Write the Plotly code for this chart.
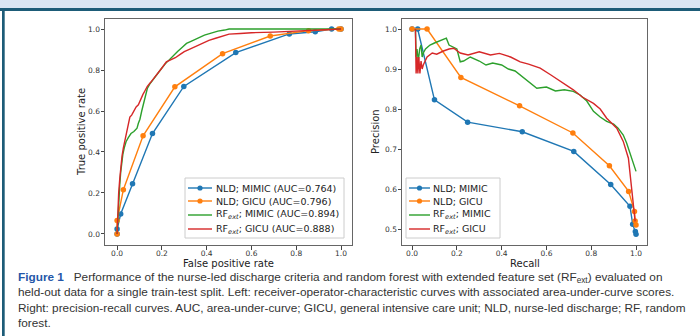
import plotly.graph_objects as go

# ---------------- data ----------------
# ROC curves
roc_nld_mimic_fpr = [0.0, 0.0, 0.016, 0.069, 0.158, 0.298, 0.53, 0.769, 0.885, 0.958, 1.0]
roc_nld_mimic_tpr = [0.0, 0.024, 0.097, 0.245, 0.49, 0.72, 0.885, 0.976, 0.987, 1.0, 1.0]
roc_nld_gicu_fpr = [0.0, 0.0, 0.028, 0.116, 0.258, 0.471, 0.684, 0.855, 0.99, 1.0]
roc_nld_gicu_tpr = [0.0, 0.065, 0.216, 0.479, 0.718, 0.88, 0.966, 0.992, 1.0, 1.0]
roc_rf_mimic_fpr = [0.0, 0.004, 0.008, 0.012, 0.016, 0.02, 0.026, 0.032, 0.04, 0.05, 0.062, 0.075, 0.089,
                    0.095, 0.102, 0.11, 0.118, 0.126, 0.135, 0.145, 0.158, 0.17, 0.185, 0.2, 0.215,
                    0.232, 0.25, 0.27, 0.29, 0.31, 0.33, 0.35, 0.37, 0.39, 0.42, 0.45, 0.48, 0.5, 0.6, 0.8, 1.0]
roc_rf_mimic_tpr = [0.0, 0.1, 0.17, 0.24, 0.3, 0.34, 0.39, 0.42, 0.45, 0.47, 0.49, 0.5, 0.516,
                    0.54, 0.56, 0.6, 0.64, 0.68, 0.71, 0.73, 0.75, 0.77, 0.79, 0.81, 0.83,
                    0.85, 0.87, 0.89, 0.91, 0.93, 0.94, 0.95, 0.96, 0.97, 0.98, 0.99, 0.995, 1.0, 1.0, 1.0, 1.0]
roc_rf_gicu_fpr = [0.0, 0.003, 0.007, 0.012, 0.017, 0.022, 0.028, 0.035, 0.042, 0.05, 0.057, 0.065, 0.075,
                   0.085, 0.095, 0.105, 0.115, 0.125, 0.135, 0.15, 0.165, 0.18, 0.2, 0.22, 0.24, 0.26,
                   0.28, 0.3, 0.32, 0.35, 0.38, 0.41, 0.44, 0.47, 0.5, 0.55, 0.6, 0.7, 0.8, 0.9, 0.95, 1.0]
roc_rf_gicu_tpr = [0.0, 0.12, 0.2, 0.27, 0.33, 0.38, 0.42, 0.46, 0.5, 0.54, 0.57, 0.58, 0.6,
                   0.62, 0.63, 0.66, 0.68, 0.7, 0.72, 0.74, 0.76, 0.78, 0.81, 0.84, 0.85, 0.86,
                   0.875, 0.89, 0.9, 0.915, 0.93, 0.945, 0.955, 0.965, 0.975, 0.978, 0.982, 0.985, 0.99, 0.995, 1.0, 1.0]

# Precision-recall curves
pr_nld_mimic_rec = [0.0, 0.025, 0.1, 0.248, 0.492, 0.722, 0.887, 0.973, 0.985, 0.997, 1.0]
pr_nld_mimic_prec = [1.0, 1.0, 0.823, 0.767, 0.743, 0.694, 0.611, 0.557, 0.512, 0.494, 0.487]
pr_nld_gicu_rec = [0.0, 0.067, 0.218, 0.48, 0.718, 0.881, 0.967, 0.993, 0.996, 1.0]
pr_nld_gicu_prec = [1.0, 1.0, 0.879, 0.808, 0.74, 0.658, 0.594, 0.544, 0.52, 0.51]
pr_rf_mimic_rec = [0.015, 0.018, 0.022, 0.028, 0.034, 0.04, 0.045, 0.05, 0.06, 0.08, 0.1, 0.12, 0.14, 0.153,
                   0.165, 0.18, 0.2, 0.215, 0.23, 0.26, 0.3, 0.33, 0.36, 0.4, 0.43, 0.46, 0.483, 0.52,
                   0.557, 0.6, 0.64, 0.68, 0.72, 0.75, 0.78, 0.81, 0.84, 0.869, 0.9, 0.92, 0.943,
                   0.958, 0.97, 0.98, 0.99, 1.0]
pr_rf_mimic_prec = [1.0, 0.93, 0.95, 0.92, 0.95, 0.96, 0.93, 0.94, 0.95, 0.96, 0.965, 0.97, 0.973, 0.977,
                    0.96, 0.955, 0.95, 0.918, 0.92, 0.93, 0.92, 0.91, 0.915, 0.91, 0.9, 0.895, 0.885, 0.87,
                    0.852, 0.855, 0.845, 0.848, 0.844, 0.835, 0.82, 0.794, 0.78, 0.769, 0.762, 0.752, 0.735,
                    0.715, 0.694, 0.68, 0.665, 0.644]
pr_rf_gicu_rec = [0.015, 0.018, 0.022, 0.026, 0.03, 0.035, 0.04, 0.045, 0.05, 0.067, 0.09, 0.11, 0.14, 0.165,
                  0.186, 0.215, 0.25, 0.3, 0.35, 0.39, 0.44, 0.483, 0.52, 0.572, 0.62, 0.661, 0.72,
                  0.76, 0.81, 0.84, 0.869, 0.914, 0.943, 0.966, 0.98, 0.988, 0.996]
pr_rf_gicu_prec = [1.0, 0.889, 0.93, 0.889, 0.93, 0.889, 0.92, 0.9, 0.91, 0.93, 0.94, 0.937, 0.945, 0.95,
                   0.952, 0.94, 0.935, 0.943, 0.935, 0.939, 0.93, 0.918, 0.912, 0.902, 0.885, 0.869, 0.848,
                   0.83, 0.814, 0.8, 0.777, 0.752, 0.719, 0.677, 0.602, 0.561, 0.519]

roc_names = ["NLD; MIMIC (AUC=0.764)", "NLD; GICU (AUC=0.796)",
             "RF<sub><i>ext</i></sub>; MIMIC (AUC=0.894)", "RF<sub><i>ext</i></sub>; GICU (AUC=0.888)"]
pr_names = ["NLD; MIMIC", "NLD; GICU", "RF<sub><i>ext</i></sub>; MIMIC", "RF<sub><i>ext</i></sub>; GICU"]
tick_vals = [0.0, 0.2, 0.4, 0.6, 0.8, 1.0]
tick_text = ["0.0", "0.2", "0.4", "0.6", "0.8", "1.0"]
pr_tick_vals = [0.5, 0.6, 0.7, 0.8, 0.9, 1.0]
pr_tick_text = ["0.5", "0.6", "0.7", "0.8", "0.9", "1.0"]
axis_titles = ["False positive rate", "True positive rate", "Recall", "Precision"]

colors = ["#1f77b4", "#ff7f0e", "#2ca02c", "#d62728"]
has_markers = [True, True, False, False]

# ---------------- figure ----------------
W, H = 700, 336
fig = go.Figure()


def px(x):
    return x / W


def py(y):
    return 1 - y / H


def add(x, y, name, color, markers, xa, ya):
    fig.add_trace(go.Scatter(
        x=x, y=y, name=name, xaxis=xa, yaxis=ya, showlegend=False,
        mode="lines+markers" if markers else "lines",
        line=dict(color=color, width=1.4),
        marker=dict(size=5.5, color=color),
    ))


roc_x = [roc_nld_mimic_fpr, roc_nld_gicu_fpr, roc_rf_mimic_fpr, roc_rf_gicu_fpr]
roc_y = [roc_nld_mimic_tpr, roc_nld_gicu_tpr, roc_rf_mimic_tpr, roc_rf_gicu_tpr]
pr_x = [pr_nld_mimic_rec, pr_nld_gicu_rec, pr_rf_mimic_rec, pr_rf_gicu_rec]
pr_y = [pr_nld_mimic_prec, pr_nld_gicu_prec, pr_rf_mimic_prec, pr_rf_gicu_prec]
for i in range(4):
    add(roc_x[i], roc_y[i], roc_names[i], colors[i], has_markers[i], "x", "y")
for i in range(4):
    add(pr_x[i], pr_y[i], pr_names[i], colors[i], has_markers[i], "x2", "y2")

axis_common = dict(
    showgrid=False, zeroline=False, showline=True, mirror=True, automargin=False,
    linecolor="#666666", linewidth=1, ticks="outside", ticklen=3.5,
    tickcolor="#444444", tickwidth=1, tickangle=0,
    tickfont=dict(family="DejaVu Sans", size=7.5, color="#333333"),
)
xaxis_extra = dict(ticklabelstandoff=-3)
yaxis_extra = dict(ticklabelstandoff=-1)
title_font = dict(family="DejaVu Sans", size=10, color="#222222")

fig.update_layout(
    width=W, height=H,
    margin=dict(l=0, r=0, t=0, b=0, autoexpand=False),
    paper_bgcolor="white", plot_bgcolor="white",
    showlegend=False,
    xaxis=dict(domain=[px(105), px(352)], range=[-0.054, 1.049], anchor="y",
               tickvals=tick_vals, ticktext=tick_text, **axis_common, **xaxis_extra),
    yaxis=dict(domain=[py(245), py(19)], range=[-0.054, 1.049], anchor="x",
               tickvals=tick_vals, ticktext=tick_text, **axis_common, **yaxis_extra),
    xaxis2=dict(domain=[px(402), px(647)], range=[-0.045, 1.049], anchor="y2",
                tickvals=tick_vals, ticktext=tick_text, **axis_common, **xaxis_extra),
    yaxis2=dict(domain=[py(245), py(19)], range=[0.46, 1.025], anchor="x2",
                tickvals=pr_tick_vals, ticktext=pr_tick_text, **axis_common, **yaxis_extra),
)

# axis titles placed as annotations for exact positioning
fig.add_annotation(xref="paper", yref="paper", x=px(228.5), y=py(263), text=axis_titles[0],
                   showarrow=False, xanchor="center", yanchor="middle", font=title_font)
fig.add_annotation(xref="paper", yref="paper", x=px(82), y=py(132), text=axis_titles[1],
                   showarrow=False, xanchor="center", yanchor="middle", textangle=-90, font=title_font)
fig.add_annotation(xref="paper", yref="paper", x=px(524.5), y=py(263), text=axis_titles[2],
                   showarrow=False, xanchor="center", yanchor="middle", font=title_font)
fig.add_annotation(xref="paper", yref="paper", x=px(376), y=py(132), text=axis_titles[3],
                   showarrow=False, xanchor="center", yanchor="middle", textangle=-90, font=title_font)


# manual legends (matplotlib-like compact layout)
def legend(box, names, line_x0, line_x1, text_x, rows):
    x0, y0, x1, y1 = box
    fig.add_shape(type="rect", xref="paper", yref="paper",
                  x0=px(x0), x1=px(x1), y0=py(y1), y1=py(y0),
                  fillcolor="rgba(255,255,255,0.85)", line=dict(color="#cccccc", width=1))
    for i, name in enumerate(names):
        yy = rows[i]
        fig.add_shape(type="line", xref="paper", yref="paper",
                      x0=px(line_x0), x1=px(line_x1), y0=py(yy), y1=py(yy),
                      line=dict(color=colors[i], width=1.4))
        if has_markers[i]:
            cx = (line_x0 + line_x1) / 2
            r = 2.6
            fig.add_shape(type="circle", xref="paper", yref="paper",
                          x0=px(cx - r), x1=px(cx + r), y0=py(yy + r), y1=py(yy - r),
                          fillcolor=colors[i], line=dict(color=colors[i], width=0))
        fig.add_annotation(xref="paper", yref="paper", x=px(text_x), y=py(yy),
                           xanchor="left", yanchor="middle", text=name, showarrow=False,
                           font=dict(family="DejaVu Sans", size=9.5, color="#222222"))


legend((185, 178, 344, 238), roc_names, 188, 212, 214, [188, 201, 215, 229])
legend((406, 178, 500, 238), pr_names, 409, 430, 431, [188, 201, 215, 229])

# frame decoration
fig.add_shape(type="rect", xref="paper", yref="paper", x0=0, x1=1, y0=py(8), y1=1,
              fillcolor="#dae6f3", line_width=0, layer="above")
fig.add_shape(type="rect", xref="paper", yref="paper", x0=0, x1=1, y0=py(11), y1=py(8),
              fillcolor="#1d5c78", line_width=0)
fig.add_shape(type="rect", xref="paper", yref="paper", x0=px(2), x1=px(4.7), y0=0, y1=py(8),
              fillcolor="#1d5c78", line_width=0)

caption = ("<b><span style='color:#2456a8'>Figure 1</span></b>&nbsp;&nbsp;&nbsp;"
           "Performance of the nurse-led discharge criteria and random forest with extended feature set "
           "(RF<sub>ext</sub>) evaluated on<br>"
           "held-out data for a single train-test split. Left: receiver-operator-characteristic curves "
           "with associated area-under-curve scores.<br>"
           "Right: precision-recall curves. AUC, area-under-curve; GICU, general intensive care unit; "
           "NLD, nurse-led discharge; RF, random<br>forest.")
fig.add_annotation(xref="paper", yref="paper", x=px(16), y=py(268), xanchor="left", yanchor="top",
                   text=caption, showarrow=False, align="left",
                   font=dict(family="Liberation Sans", size=11.8, color="#333333"))

fig.write_html("out.html", config={"displayModeBar": False},
               post_script="document.body.style.margin='0px';")
